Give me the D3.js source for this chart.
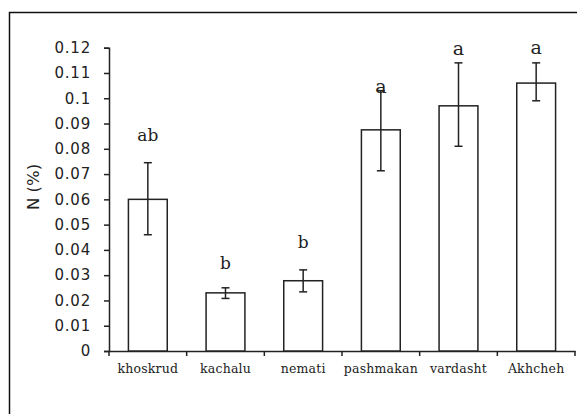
<!DOCTYPE html>
<html>
<head>
<meta charset="utf-8">
<script src="https://cdn.jsdelivr.net/npm/d3@7"></script>
<style>
  body { margin: 0; background: #fff; }
  svg { display: block; }
</style>
</head>
<body>
<svg></svg>
<script>
const categories = ['khoskrud', 'kachalu', 'nemati', 'pashmakan', 'vardasht', 'Akhcheh']
const values = [0.060, 0.023, 0.0278, 0.0875, 0.097, 0.106]
const errLow = [0.046, 0.0208, 0.0234, 0.0713, 0.081, 0.099]
const errHigh = [0.0745, 0.025, 0.0321, 0.103, 0.114, 0.114]
const letters = ['ab', 'b', 'b', 'a', 'a', 'a']
// baseline height of each letter, in axis units
const letterAt = [0.0831, 0.0324, 0.0408, 0.1021, 0.1171, 0.1177]
const yTicks = [0, 0.01, 0.02, 0.03, 0.04, 0.05, 0.06, 0.07, 0.08, 0.09, 0.1, 0.11, 0.12]

const width = 577
const height = 414
const ink = '#222'

const svg = d3.select('svg').attr('width', width).attr('height', height)

// frame round the chart
svg.append('rect')
    .attr('x', 9.5).attr('y', 12.5)
    .attr('width', 620).attr('height', 460)
    .attr('fill', 'none').attr('stroke', '#111').attr('stroke-width', 1.5)

const x = d3.scaleBand().domain(categories).range([109, 575])
    .paddingInner(0.5).paddingOuter(0.25)
const y = d3.scaleLinear().domain([0, 0.12]).range([351, 47.7])

// y axis
const yAxis = svg.append('g')
    .attr('transform', 'translate(109,0)')
    .call(d3.axisLeft(y).tickValues(yTicks).tickFormat(d => d3.format('')(+d.toFixed(2))).tickSize(5).tickPadding(13))
yAxis.select('.domain').attr('stroke', ink).attr('stroke-width', 1.5)
yAxis.selectAll('.tick line').attr('stroke', ink).attr('stroke-width', 1.5)
yAxis.selectAll('text')
    .attr('font-family', 'DejaVu Sans').attr('font-size', 15).attr('letter-spacing', 0.8).attr('fill', '#222')

// x axis: labels centred on bars, ticks between categories
const xAxis = svg.append('g')
    .attr('transform', 'translate(0,351)')
    .call(d3.axisBottom(x).tickSize(0).tickPadding(13))
xAxis.select('.domain').attr('stroke', ink).attr('stroke-width', 1.5)
xAxis.selectAll('text')
    .attr('font-family', 'DejaVu Serif').attr('font-size', 12.5).attr('letter-spacing', 0.2).attr('fill', '#222')

const step = x.step()
const edges = d3.range(categories.length + 1).map(i => 109 + i * step)
svg.append('g').selectAll('line').data(edges).enter().append('line')
    .attr('x1', d => d).attr('x2', d => d)
    .attr('y1', 351).attr('y2', 356)
    .attr('stroke', ink).attr('stroke-width', 1.5)

// bars
svg.append('g').selectAll('rect').data(values).enter().append('rect')
    .attr('x', (d, i) => x(categories[i]))
    .attr('y', d => y(d))
    .attr('width', x.bandwidth())
    .attr('height', d => y(0) - y(d))
    .attr('fill', '#fff').attr('stroke', ink).attr('stroke-width', 1.5)

// error bars
const eg = svg.append('g').attr('stroke', ink).attr('stroke-width', 1.5)
categories.forEach(function (c, i) {
    const cx = x(c) + x.bandwidth() / 2
    eg.append('line').attr('x1', cx).attr('x2', cx).attr('y1', y(errLow[i])).attr('y2', y(errHigh[i]))
    eg.append('line').attr('x1', cx - 4).attr('x2', cx + 4).attr('y1', y(errLow[i])).attr('y2', y(errLow[i]))
    eg.append('line').attr('x1', cx - 4).attr('x2', cx + 4).attr('y1', y(errHigh[i])).attr('y2', y(errHigh[i]))
})

// significance letters
svg.append('g').selectAll('text').data(letters).enter().append('text')
    .attr('x', (d, i) => x(categories[i]) + x.bandwidth() / 2)
    .attr('y', (d, i) => y(letterAt[i]))
    .attr('text-anchor', 'middle')
    .attr('font-family', 'DejaVu Serif')
    .attr('font-size', d => d === 'a' ? 19 : 17)
    .attr('fill', '#222')
    .text(d => d)

// y axis title
svg.append('text')
    .attr('transform', 'translate(39,187) rotate(-90)')
    .attr('text-anchor', 'middle')
    .attr('font-family', 'DejaVu Sans').attr('font-size', 16.5).attr('fill', '#222')
    .text('N (%)')
</script>
</body>
</html>
